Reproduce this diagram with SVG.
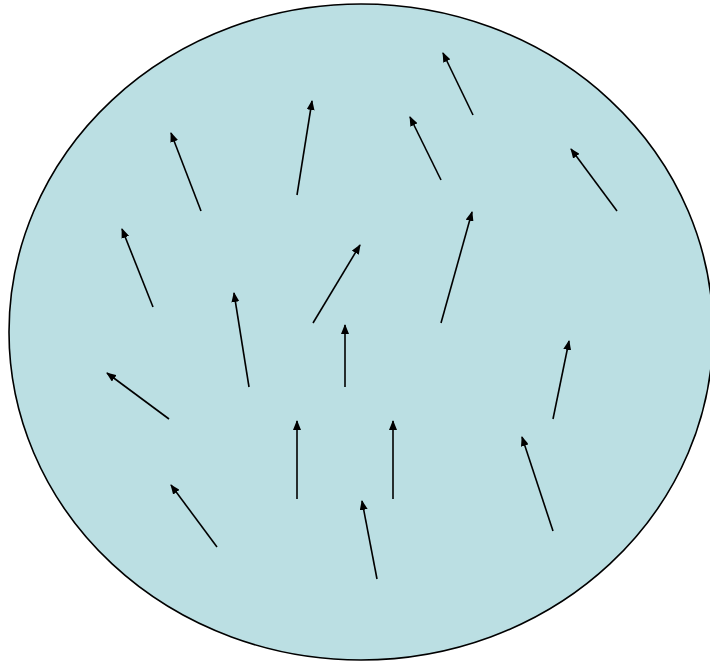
<svg xmlns="http://www.w3.org/2000/svg" width="710" height="663" viewBox="0 0 710 663">
<defs>
<marker id="ah" viewBox="0 0 10 8" refX="9" refY="4" markerWidth="10" markerHeight="8" markerUnits="userSpaceOnUse" orient="auto">
<path d="M0,0 L10,4 L0,8 Z" fill="#000"/>
</marker>
<style>
.a{stroke:#000;stroke-width:1.6;fill:none;marker-end:url(#ah)}
</style>
</defs>
<rect width="710" height="663" fill="#fff"/>
<g id="cell">
<ellipse cx="361" cy="332" rx="352" ry="328" fill="#BBDFE3" stroke="#000" stroke-width="1.6"/>
</g>
<g id="arrows">
<line class="a" x1="473" y1="115" x2="443" y2="53"/>
<line class="a" x1="297" y1="195" x2="312" y2="101"/>
<line class="a" x1="201" y1="211" x2="171" y2="133"/>
<line class="a" x1="441" y1="180" x2="410" y2="117"/>
<line class="a" x1="617" y1="211" x2="571" y2="149"/>
<line class="a" x1="153" y1="307" x2="122" y2="229"/>
<line class="a" x1="313" y1="323" x2="360" y2="245"/>
<line class="a" x1="441" y1="323" x2="472" y2="212"/>
<line class="a" x1="249" y1="387" x2="234" y2="293"/>
<line class="a" x1="345" y1="387" x2="345" y2="325"/>
<line class="a" x1="169" y1="419" x2="107" y2="373"/>
<line class="a" x1="553" y1="419" x2="569" y2="341"/>
<line class="a" x1="297" y1="499" x2="297" y2="421"/>
<line class="a" x1="393" y1="499" x2="393" y2="421"/>
<line class="a" x1="553" y1="531" x2="522" y2="437"/>
<line class="a" x1="217" y1="547" x2="171" y2="485"/>
<line class="a" x1="377" y1="579" x2="362" y2="501"/>
</g>
</svg>
